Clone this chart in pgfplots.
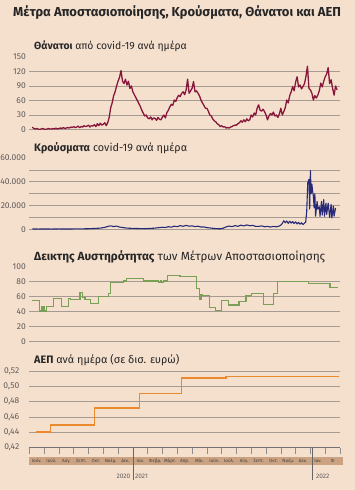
\documentclass[border=0pt]{standalone}
\usepackage{fontspec}
\setmainfont{Fira Sans}
\usepackage{pgfplots}
\pgfplotsset{compat=1.18}
\definecolor{bg}{RGB}{245,224,206}
\definecolor{band}{RGB}{203,163,130}
\definecolor{gridc}{RGB}{165,155,147}
\definecolor{deaths}{RGB}{135,22,58}
\definecolor{cases}{RGB}{40,42,120}
\definecolor{strict}{RGB}{122,160,88}
\definecolor{gdp}{RGB}{232,138,45}
\definecolor{ticklab}{RGB}{95,92,90}
\pgfplotsset{
  base/.style={scale only axis, width=310.7pt, xmin=0, xmax=21, anchor=south west,
    axis line style={draw=none}, tick style={draw=none}, xtick=\empty,
    ymajorgrids, grid style={gridc, line width=0.6pt},
    yticklabel style={font=\fontsize{8.5}{10}\selectfont, text=ticklab},
    /pgf/number format/assume math mode=true, scaled y ticks=false,
    extra y tick style={grid=none}}
}
\begin{document}
\begin{tikzpicture}
\path[fill=bg, use as bounding box] (0,0) rectangle (355pt,490pt);
% title
\node[anchor=base west, inner sep=0, text=black!85, font=\fontsize{13}{15}\selectfont\bfseries] at (13pt,473.3pt) {Μέτρα Αποστασιοποίησης, Κρούσματα, Θάνατοι και ΑΕΠ};
% subtitles
\node[anchor=base west, inner sep=0, text=black!85, font=\fontsize{10.4}{12}\selectfont] at (34pt,440pt) {\textbf{Θάνατοι} από covid-19 ανά ημέρα};
\node[anchor=base west, inner sep=0, text=black!85, font=\fontsize{10.8}{12}\selectfont] at (34pt,338.3pt) {\textbf{Κρούσματα} covid-19 ανά ημέρα};
\node[anchor=base west, inner sep=0, text=black!85, font=\fontsize{11.8}{13}\selectfont] at (34pt,229.3pt) {\textbf{Δεικτης Αυστηρότητας} των Μέτρων Αποστασιοποίησης};
\node[anchor=base west, inner sep=0, text=black!85, font=\fontsize{10.8}{12}\selectfont] at (34pt,126pt) {\textbf{ΑΕΠ} ανά ημέρα (σε δισ. ευρώ)};

% Deaths
\begin{axis}[base, at={(29.3pt,360.5pt)}, height=72.5pt, ymin=0, ymax=150,
  ytick={0,30,60,90,120}, extra y ticks={150}]
\addplot[deaths, line width=1.3pt, line join=round] coordinates {
(0.2,5)(0.3,2)(0.4,1)(0.5,2)(0.6,1)(0.7,0)(0.8,1)(0.9,2)
(1.0,1)(1.1,0)(1.2,1)(1.3,2)(1.4,1)(1.5,1)(1.6,2)(1.7,1)(1.8,3)(1.9,1)
(2.0,2)(2.1,3)(2.2,2)(2.3,4)(2.4,2)(2.5,3)(2.6,4)(2.7,3)(2.8,5)(2.9,4)
(3.0,6)(3.1,4)(3.2,5)(3.3,7)(3.4,4)(3.5,6)(3.6,5)(3.7,8)(3.8,6)(3.9,7)
(4.0,9)(4.1,5)(4.2,8)(4.3,7)(4.4,10)(4.5,6)(4.6,12)(4.7,8)(4.8,13)(4.9,9)
(5.0,11)(5.1,14)(5.2,8)(5.3,14)(5.4,25)(5.5,45)(5.6,55)(5.7,70)(5.8,78)(5.9,90)
(6.0,100)(6.1,108)(6.2,122)(6.3,100)(6.4,95)(6.5,104)(6.6,92)(6.7,100)(6.8,85)(6.9,90)
(7.0,78)(7.1,72)(7.2,66)(7.3,60)(7.4,54)(7.5,48)(7.6,40)(7.7,34)(7.8,28)(7.9,30)
(8.0,24)(8.1,22)(8.2,26)(8.3,20)(8.4,24)(8.5,23)(8.6,19)(8.7,25)(8.8,21)(8.9,20)
(9.0,26)(9.1,30)(9.2,24)(9.3,35)(9.4,40)(9.5,47)(9.6,52)(9.7,50)(9.8,61)(9.9,58)
(10.0,66)(10.1,71)(10.2,68)(10.3,75)(10.4,78)(10.5,72)(10.6,82)(10.7,104)(10.8,75)(10.9,80)
(11.0,85)(11.1,99)(11.2,78)(11.3,80)(11.4,75)(11.5,70)(11.6,61)(11.7,55)(11.8,50)(11.9,44)
(12.0,44)(12.1,38)(12.2,30)(12.3,28)(12.4,22)(12.5,18)(12.6,16)(12.7,12)(12.8,10)(12.9,6)
(13.0,8)(13.1,5)(13.2,6)(13.3,3)(13.4,4)(13.5,3)(13.6,5)(13.7,6)(13.8,8)(13.9,9)
(14.0,9)(14.1,12)(14.2,14)(14.3,18)(14.4,15)(14.5,20)(14.6,16)(14.7,22)(14.8,18)(14.9,20)
(15.0,30)(15.1,26)(15.2,34)(15.3,30)(15.4,44)(15.5,51)(15.6,40)(15.7,38)(15.8,42)(15.9,37)
(16.0,30)(16.1,20)(16.2,28)(16.3,33)(16.4,30)(16.5,36)(16.6,28)(16.7,30)(16.8,25)(16.9,32)
(17.0,44)(17.1,30)(17.2,37)(17.3,45)(17.4,61)(17.5,55)(17.6,70)(17.7,78)(17.8,89)(17.9,80)
(18.0,98)(18.1,109)(18.2,88)(18.3,92)(18.4,84)(18.5,89)(18.6,95)(18.7,110)(18.8,131)(18.9,85)
(19.0,82)(19.1,75)(19.2,61)(19.3,70)(19.4,65)(19.5,71)(19.6,80)(19.7,96)(19.8,88)(19.9,100)
(20.0,109)(20.1,115)(20.2,128)(20.3,95)(20.4,103)(20.5,85)(20.6,71)(20.7,90)(20.8,82)
};
\end{axis}

% Cases
\begin{axis}[base, at={(29.3pt,260.7pt)}, height=71.3pt, ymin=0, ymax=60000,
  ytick={0,10000,20000,30000,40000,50000}, yticklabels={0,,20.000,,40.000,},
  extra y ticks={60000}, extra y tick labels={60.000}]
\addplot[cases, line width=1.1pt, line join=round] coordinates {
(0.2,300)(0.6,200)(1.0,250)(1.5,200)(2.0,300)(2.5,250)(3.0,300)(3.5,350)(4.0,500)(4.4,700)
(4.8,1000)(5.1,1600)(5.3,2400)(5.5,2900)(5.7,2300)(5.9,2700)(6.1,1900)(6.3,1500)(6.6,1000)(6.9,800)
(7.2,700)(7.5,600)(7.8,500)(8.1,700)(8.4,900)(8.7,1300)(9.0,1700)(9.2,1500)(9.4,2200)(9.6,1800)
(9.8,2600)(10.0,2200)(10.2,3100)(10.4,2500)(10.6,3300)(10.8,2600)(11.0,2900)(11.2,2300)(11.4,2600)(11.6,1900)
(11.8,2000)(12.0,1400)(12.3,1000)(12.6,600)(12.9,400)(13.1,900)(13.3,2000)(13.5,2700)(13.7,2200)(13.9,3100)
(14.1,2500)(14.3,3500)(14.5,2800)(14.7,3700)(14.9,3000)(15.1,3300)(15.3,2500)(15.5,2400)(15.7,2900)(15.9,2100)
(16.1,2500)(16.3,1900)(16.5,2400)(16.7,2100)(16.9,2700)(17.0,3500)(17.1,4800)(17.2,7200)(17.3,5500)(17.4,7000)
(17.5,5000)(17.6,6800)(17.7,5200)(17.8,6500)(17.9,4800)(18.0,6300)(18.1,4500)(18.2,5800)(18.3,4300)(18.4,5500)
(18.5,4000)(18.6,5200)(18.68,6000)(18.75,15000)(18.82,39000)(18.9,42000)(18.95,17000)(19.0,49500)(19.05,30000)(19.1,38000)
(19.15,32000)(19.2,28000)(19.25,18000)(19.3,30000)(19.35,11000)(19.45,23500)(19.5,17000)(19.6,19000)(19.65,11000)(19.75,23500)
(19.8,12000)(19.9,25000)(19.95,11000)(20.05,22000)(20.1,12500)(20.2,22000)(20.3,10000)(20.4,21000)(20.45,9500)(20.55,19500)
(20.6,11000)(20.7,18000)
};
\end{axis}

% Stringency
\begin{axis}[base, at={(29.3pt,148.3pt)}, height=75pt, ymin=0, ymax=100,
  ytick={0,20,40,60,80}, extra y ticks={100}]
\addplot[strict, line width=1.2pt, const plot] coordinates {
(0.16,55)(0.68,41)(0.8,47)(0.88,41)(0.95,47)(1.05,41)(1.15,47)(1.62,58)(2.19,47)(2.64,58)
(2.8,56)(3.43,66)(3.6,59)(3.76,56)(4.15,51)(4.66,60)(5.34,64)(5.5,79)(6.35,81)(6.58,84)
(7.7,81)(8.72,79)(8.85,81)(8.95,79)(9.05,81)(9.32,88)(10.18,87)(11.31,71)(11.53,56)(11.6,63)
(11.7,62)(12.16,46)(12.61,42)(13.0,55)(13.45,49)(14.17,54)(14.64,62)(14.8,60)(14.9,62)(15.03,64)
(15.81,50)(16.49,64)(16.76,80)(18.85,78)(20.32,72)(20.88,72)
};
\end{axis}

% GDP
\begin{axis}[base, at={(29.3pt,42.3pt)}, height=76.7pt, ymin=0.42, ymax=0.52,
  ytick={0.42,0.44,0.46,0.48,0.50,0.52},
  yticklabel style={/pgf/number format/.cd, fixed, fixed zerofill, precision=2, use comma},
  axis x line*=bottom,
  x axis line style={draw=black!55, line width=0.6pt},
  xtick={0,...,21}, xticklabels={}, tick align=outside, major tick length=6.5pt,
  x tick style={draw=black!45, line width=0.5pt}]
\addplot[gdp, line width=1.2pt, const plot] coordinates {
(0.45,0.4405)(1.45,0.4495)(4.39,0.4717)(7.43,0.491)(10.3,0.511)(13.29,0.5125)(20.95,0.5125)
};
\end{axis}

% month band
\fill[band] (29pt,25pt) rectangle (343pt,33pt);
\foreach \i/\m in {0/Ιούν.,1/Ιούλ.,2/Αύγ.,3/Σεπτ.,4/Οκτ.,5/Νοέμ.,6/Δεκ.,7/Ιαν.,8/Φεβρ.,9/Μάρτ.,10/Απρ.,11/Μάι.,12/Ιούν.,13/Ιούλ.,14/Αύγ.,15/Σεπτ.,16/Οκτ.,17/Νοέμ.,18/Δεκ.,19/Ιαν.,20/Φ}
  \node[inner sep=0, font=\fontsize{4.6}{5}\selectfont, text=black!75] at ({(29.3+14.8*(\i+0.5))*1pt},29pt) {\m};
% year dividers and labels
\draw[black!60, line width=0.5pt] (132.8pt,42.3pt) -- (132.8pt,10pt);
\draw[black!60, line width=0.5pt] (312.5pt,42.3pt) -- (312.5pt,10pt);
\node[anchor=east, inner sep=0, font=\fontsize{6.5}{7}\selectfont, text=ticklab] at (130.5pt,14pt) {2020};
\node[anchor=west, inner sep=0, font=\fontsize{6.5}{7}\selectfont, text=ticklab] at (135pt,14pt) {2021};
\node[anchor=west, inner sep=0, font=\fontsize{6.5}{7}\selectfont, text=ticklab] at (316pt,14pt) {2022};
\end{tikzpicture}
\end{document}
